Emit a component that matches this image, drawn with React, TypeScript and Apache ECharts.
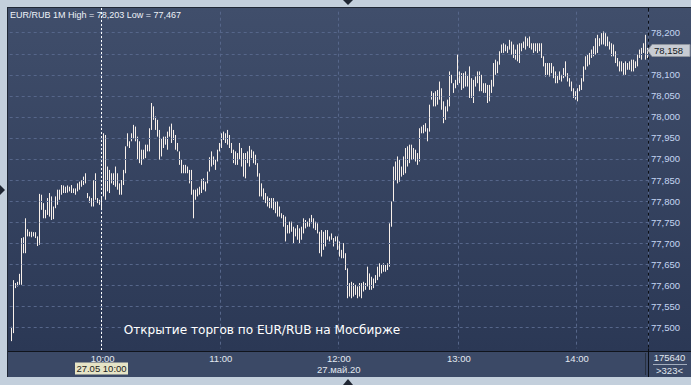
import React, { useEffect, useRef } from "react";
import * as echarts from "echarts";

const highs = [
  77.501, 77.612, 77.605, 77.608, 77.627, 77.712, 77.714, 77.759, 77.733, 77.727,
  77.727, 77.726, 77.726, 77.716, 77.817, 77.815, 77.795, 77.779, 77.807, 77.819,
  77.811, 77.787, 77.811, 77.827, 77.827, 77.838, 77.837, 77.834, 77.837, 77.834,
  77.838, 77.83, 77.83, 77.842, 77.846, 77.85, 77.858, 77.866, 77.819, 77.811,
  77.807, 77.85, 77.866, 77.807, 77.803, 77.811, 77.961, 77.957, 77.882, 77.874,
  77.866, 77.866, 77.882, 77.866, 77.842, 77.85, 77.874, 77.93, 77.961, 77.942,
  77.961, 77.981, 77.977, 77.953, 77.942, 77.922, 77.922, 77.934, 77.934, 77.973,
  78.033, 78.025, 78.001, 77.993, 77.969, 77.949, 77.953, 77.953, 77.965, 77.977,
  77.984, 77.969, 77.957, 77.938, 77.918, 77.898, 77.886, 77.886, 77.882, 77.874,
  77.874, 77.827, 77.827, 77.83, 77.834, 77.852, 77.854, 77.846, 77.87, 77.904,
  77.918, 77.906, 77.898, 77.922, 77.938, 77.961, 77.965, 77.961, 77.969, 77.957,
  77.938, 77.922, 77.918, 77.914, 77.938, 77.926, 77.914, 77.914, 77.918, 77.931,
  77.922, 77.918, 77.91, 77.89, 77.866, 77.842, 77.83, 77.819, 77.811, 77.807,
  77.807, 77.807, 77.799, 77.799, 77.787, 77.771, 77.767, 77.763, 77.743, 77.751,
  77.751, 77.739, 77.735, 77.743, 77.735, 77.739, 77.759, 77.755, 77.751, 77.759,
  77.767, 77.759, 77.751, 77.747, 77.727, 77.731, 77.727, 77.731, 77.731, 77.716,
  77.723, 77.712, 77.716, 77.716, 77.704, 77.684, 77.7, 77.676, 77.64, 77.605,
  77.608, 77.605, 77.601, 77.597, 77.605, 77.605, 77.608, 77.605, 77.644, 77.628,
  77.62, 77.616, 77.624, 77.644, 77.652, 77.648, 77.652, 77.648, 77.652, 77.747,
  77.799, 77.882, 77.894, 77.906, 77.898, 77.882, 77.906, 77.926, 77.93, 77.934,
  77.934, 77.926, 77.922, 77.914, 77.973, 77.977, 77.981, 77.985, 77.973, 78.029,
  78.061, 78.057, 78.061, 78.064, 78.084, 78.068, 78.037, 78.025, 78.041, 78.108,
  78.1, 78.08, 78.088, 78.148, 78.108, 78.104, 78.104, 78.108, 78.1, 78.12,
  78.092, 78.088, 78.096, 78.108, 78.108, 78.1, 78.08, 78.08, 78.076, 78.076,
  78.088, 78.128, 78.136, 78.132, 78.156, 78.172, 78.175, 78.172, 78.168, 78.183,
  78.179, 78.172, 78.16, 78.172, 78.175, 78.175, 78.179, 78.191, 78.187, 78.191,
  78.175, 78.175, 78.175, 78.175, 78.175, 78.175, 78.144, 78.128, 78.128, 78.128,
  78.128, 78.12, 78.108, 78.1, 78.108, 78.1, 78.116, 78.132, 78.104, 78.092,
  78.084, 78.068, 78.061, 78.068, 78.076, 78.092, 78.12, 78.144, 78.148, 78.152,
  78.16, 78.168, 78.187, 78.195, 78.187, 78.199, 78.203, 78.199, 78.191, 78.179,
  78.175, 78.172, 78.156, 78.14, 78.132, 78.132, 78.128, 78.132, 78.128, 78.132,
  78.136, 78.136, 78.132, 78.148, 78.16, 78.164, 78.175, 78.195, 78.164,
];

const lows = [
  77.467, 77.486, 77.593, 77.597, 77.601, 77.601, 77.676, 77.676, 77.716, 77.716,
  77.714, 77.716, 77.712, 77.693, 77.696, 77.779, 77.759, 77.759, 77.767, 77.763,
  77.755, 77.757, 77.783, 77.791, 77.803, 77.815, 77.819, 77.819, 77.82, 77.823,
  77.819, 77.819, 77.815, 77.823, 77.827, 77.834, 77.838, 77.842, 77.807, 77.796,
  77.787, 77.787, 77.803, 77.795, 77.791, 77.783, 77.811, 77.803, 77.823, 77.819,
  77.842, 77.838, 77.834, 77.827, 77.815, 77.815, 77.838, 77.866, 77.93, 77.926,
  77.942, 77.949, 77.942, 77.898, 77.89, 77.886, 77.898, 77.902, 77.918, 77.918,
  77.969, 77.993, 77.969, 77.953, 77.898, 77.906, 77.926, 77.934, 77.922, 77.953,
  77.938, 77.945, 77.922, 77.918, 77.886, 77.866, 77.866, 77.866, 77.866, 77.842,
  77.815, 77.759, 77.803, 77.811, 77.815, 77.819, 77.827, 77.823, 77.842, 77.87,
  77.882, 77.886, 77.874, 77.894, 77.918, 77.926, 77.945, 77.938, 77.934, 77.926,
  77.914, 77.89, 77.886, 77.886, 77.898, 77.882, 77.858, 77.854, 77.89, 77.882,
  77.902, 77.89, 77.886, 77.858, 77.811, 77.811, 77.803, 77.795, 77.787, 77.783,
  77.783, 77.779, 77.771, 77.763, 77.763, 77.759, 77.739, 77.704, 77.723, 77.723,
  77.727, 77.7, 77.716, 77.708, 77.7, 77.708, 77.723, 77.735, 77.739, 77.739,
  77.747, 77.735, 77.731, 77.723, 77.676, 77.668, 77.684, 77.692, 77.708, 77.704,
  77.708, 77.692, 77.704, 77.684, 77.668, 77.664, 77.664, 77.636, 77.569, 77.573,
  77.569, 77.573, 77.577, 77.569, 77.573, 77.569, 77.585, 77.589, 77.597, 77.589,
  77.589, 77.593, 77.605, 77.612, 77.62, 77.628, 77.632, 77.632, 77.636, 77.644,
  77.739, 77.799, 77.85, 77.842, 77.846, 77.858, 77.862, 77.866, 77.882, 77.89,
  77.898, 77.898, 77.894, 77.886, 77.894, 77.961, 77.961, 77.965, 77.942, 77.965,
  78.041, 78.025, 78.025, 78.029, 78.041, 78.017, 77.985, 77.993, 78.013, 78.025,
  78.08, 78.057, 78.068, 78.076, 78.08, 78.064, 78.068, 78.072, 78.072, 78.045,
  78.045, 78.033, 78.072, 78.08, 78.061, 78.061, 78.057, 78.057, 78.033, 78.037,
  78.057, 78.072, 78.1, 78.104, 78.124, 78.152, 78.152, 78.156, 78.152, 78.16,
  78.148, 78.14, 78.136, 78.132, 78.128, 78.156, 78.164, 78.16, 78.168, 78.164,
  78.16, 78.152, 78.156, 78.152, 78.156, 78.14, 78.12, 78.096, 78.1, 78.096,
  78.104, 78.092, 78.08, 78.08, 78.088, 78.084, 78.092, 78.096, 78.084, 78.072,
  78.061, 78.045, 78.041, 78.037, 78.061, 78.064, 78.084, 78.112, 78.12, 78.124,
  78.14, 78.144, 78.148, 78.152, 78.168, 78.172, 78.172, 78.168, 78.168, 78.16,
  78.144, 78.144, 78.128, 78.12, 78.108, 78.108, 78.1, 78.1, 78.112, 78.112,
  78.108, 78.108, 78.116, 78.12, 78.14, 78.136, 78.152, 78.136, 78.14,
];

// bar index at which each hour starts, and its label
const hourStarts = [46, 105, 164, 224, 283];
const dateLabel = "27.май.20";
const dateHour = "12:00";

const yTickValues = [
  77.5, 77.55, 77.6, 77.65, 77.7, 77.75, 77.8, 77.85, 77.9, 77.95, 78.0, 78.05, 78.1, 78.15, 78.2,
];

const titleText = "EUR/RUB 1M High = 78,203 Low = 77,467";
const noteText = "Открытие торгов по EUR/RUB на Мосбирже";
const cursorLabel = "27.05 10:00";
const lastClose = 78.158;
const volumeText = "175640";
const countText = ">323<";

const pad = (n: number) => (n < 10 ? "0" + n : "" + n);
const categories = highs.map((_, i) => {
  let k = -1;
  for (let j = 0; j < hourStarts.length; j++) if (hourStarts[j] <= i) k = j;
  if (k < 0) return "09:" + pad(60 - (hourStarts[0] - i));
  return `${10 + k}:${pad(i - hourStarts[k])}`;
});

const FONT = "'Liberation Sans', Arial, sans-serif";

export default function App() {
  const ref = useRef<HTMLDivElement>(null);

  useEffect(() => {
    document.body.style.margin = "0";
    if (!ref.current) return;
    const chart = echarts.init(ref.current, undefined, { renderer: "svg" });
    const option: any = {
      animation: false,
      grid: { left: 9.7, right: 43, top: 11.7, bottom: 36.7 },
      xAxis: {
        type: "category",
        data: categories,
        boundaryGap: true,
        axisLine: { show: false },
        axisTick: { show: false },
        axisLabel: {
          interval: (index: number) => hourStarts.includes(index),
          formatter: (v: string) => (v === dateHour ? v + "\n" + dateLabel : v),
          color: "#e2e8f0",
          fontSize: 9.5,
          fontFamily: FONT,
          lineHeight: 11,
          margin: 5,
        },
        splitLine: {
          show: true,
          interval: (index: number) => hourStarts.includes(index),
          lineStyle: { color: "#56668a", type: [3, 3], width: 1 },
        },
      },
      yAxis: {
        type: "value",
        position: "right",
        min: 77.45,
        max: 78.25,
        interval: 0.05,
        axisLine: { show: false },
        axisTick: { show: false },
        splitLine: { show: false },
        axisLabel: {
          color: "#c4d5f2",
          fontSize: 9.5,
          fontFamily: FONT,
          margin: 3,
          // labels outside the range are hidden; the one under the last-price tag is covered by it
          formatter: (v: number) =>
            v < 77.499 || v > 78.201 || Math.abs(v - lastClose) < 0.02
              ? ""
              : v.toFixed(3).replace(".", ","),
        },
      },
      series: [
        {
          type: "custom",
          data: highs.map((h, i) => [i, lows[i], h]),
          encode: { x: 0, y: [1, 2] },
          renderItem: (params: any, api: any) => {
            const idx = api.value(0);
            const top = api.coord([idx, api.value(2)]);
            const bot = api.coord([idx, api.value(1)]);
            const x = Math.round(top[0]) + 0.5;
            let y1 = top[1];
            let y2 = bot[1];
            if (y2 - y1 < 1.5) y2 = y1 + 1.5;
            return {
              type: "line",
              shape: { x1: x, y1, x2: x, y2 },
              style: { stroke: "#f8f0ea", lineWidth: 1 },
            };
          },
          markLine: {
            silent: true,
            symbol: ["none", "none"],
            label: { show: false },
            lineStyle: { color: "#56668a", type: [3, 3], width: 1 },
            data: yTickValues.map((v) => ({ yAxis: v })),
          },
        },
      ],
    };
    chart.setOption(option);

    const yLast = chart.convertToPixel({ yAxisIndex: 0 }, lastClose) as number;
    const yc = Math.round(yLast) + 0.5;

    chart.setOption({
      graphic: [
        {
          type: "line",
          shape: { x1: 101.5, y1: 8, x2: 101.5, y2: 351 },
          style: { stroke: "#ffffff", lineWidth: 1, lineDash: [2, 2] },
          z: 50,
        },
        {
          type: "text",
          x: 10,
          y: 15,
          style: {
            text: titleText,
            fill: "#eef2f8",
            fontSize: 9,
            fontFamily: FONT,
            textVerticalAlign: "middle",
          },
          z: 60,
        },
        {
          type: "text",
          x: 262,
          y: 330,
          style: {
            text: noteText,
            fill: "#ffffff",
            fontSize: 12.1,
            fontFamily: "'DejaVu Sans', sans-serif",
            textAlign: "center",
            textVerticalAlign: "middle",
          },
          z: 60,
        },
        {
          type: "rect",
          shape: { x: 75, y: 362.5, width: 53, height: 12 },
          style: { fill: "#e6e4c6" },
          z: 60,
        },
        {
          type: "text",
          x: 101.5,
          y: 368.5,
          style: {
            text: cursorLabel,
            fill: "#1c1c1c",
            fontSize: 9.5,
            fontFamily: FONT,
            textAlign: "center",
            textVerticalAlign: "middle",
          },
          z: 61,
        },
        {
          type: "polygon",
          shape: {
            points: [
              [647.5, yc],
              [652, yc - 6],
              [690, yc - 6],
              [690, yc + 6],
              [652, yc + 6],
            ],
          },
          style: { fill: "#c8ccd3", stroke: "#8e949e", lineWidth: 1 },
          z: 60,
        },
        {
          type: "text",
          x: 654,
          y: yc,
          style: {
            text: lastClose.toFixed(3).replace(".", ","),
            fill: "#151a24",
            fontSize: 9.5,
            fontFamily: FONT,
            textVerticalAlign: "middle",
          },
          z: 61,
        },
        {
          type: "text",
          x: 669.5,
          y: 357.5,
          style: {
            text: volumeText,
            fill: "#e2e8f0",
            fontSize: 9.5,
            fontFamily: FONT,
            textAlign: "center",
            textVerticalAlign: "middle",
          },
          z: 60,
        },
        {
          type: "line",
          shape: { x1: 653, y1: 364.5, x2: 687, y2: 364.5 },
          style: { stroke: "#a3adbd", lineWidth: 1 },
          z: 60,
        },
        {
          type: "text",
          x: 669.5,
          y: 370.5,
          style: {
            text: countText,
            fill: "#e2e8f0",
            fontSize: 9.5,
            fontFamily: FONT,
            textAlign: "center",
            textVerticalAlign: "middle",
          },
          z: 60,
        },
        {
          type: "polygon",
          shape: { points: [[343, 0], [353, 0], [348, 5]] },
          style: { fill: "#1f2633" },
          z: 60,
        },
        {
          type: "polygon",
          shape: { points: [[343, 385], [353, 385], [348, 379]] },
          style: { fill: "#1f2633" },
          z: 60,
        },
        {
          type: "polygon",
          shape: { points: [[0, 185], [0, 195], [5, 190]] },
          style: { fill: "#1f2633" },
          z: 60,
        },
      ],
    });

    return () => chart.dispose();
  }, []);

  const abs = (s: React.CSSProperties): React.CSSProperties => ({ position: "absolute", ...s });

  return (
    <div style={{ position: "relative", width: 691, height: 385, background: "#c3cfdc", overflow: "hidden" }}>
      <div style={abs({ left: 7, top: 7, width: 684, height: 370, background: "#1f2735" })} />
      <div
        style={abs({
          left: 8,
          top: 8,
          width: 683,
          height: 343,
          background: "linear-gradient(#404e6b, #2b3855)",
        })}
      />
      <div style={abs({ left: 8, top: 352, width: 683, height: 25, background: "#3b4966" })} />
      <div style={abs({ left: 8, top: 351, width: 683, height: 1, background: "#10141c" })} />
      <div style={abs({ left: 648, top: 8, width: 1, height: 369, background: "#0b0f16" })} />
      <div style={abs({ left: 645, top: 353, width: 1, height: 22, background: "#27303f" })} />
      <div ref={ref} style={abs({ left: 0, top: 0, width: 691, height: 385 })} />
    </div>
  );
}
